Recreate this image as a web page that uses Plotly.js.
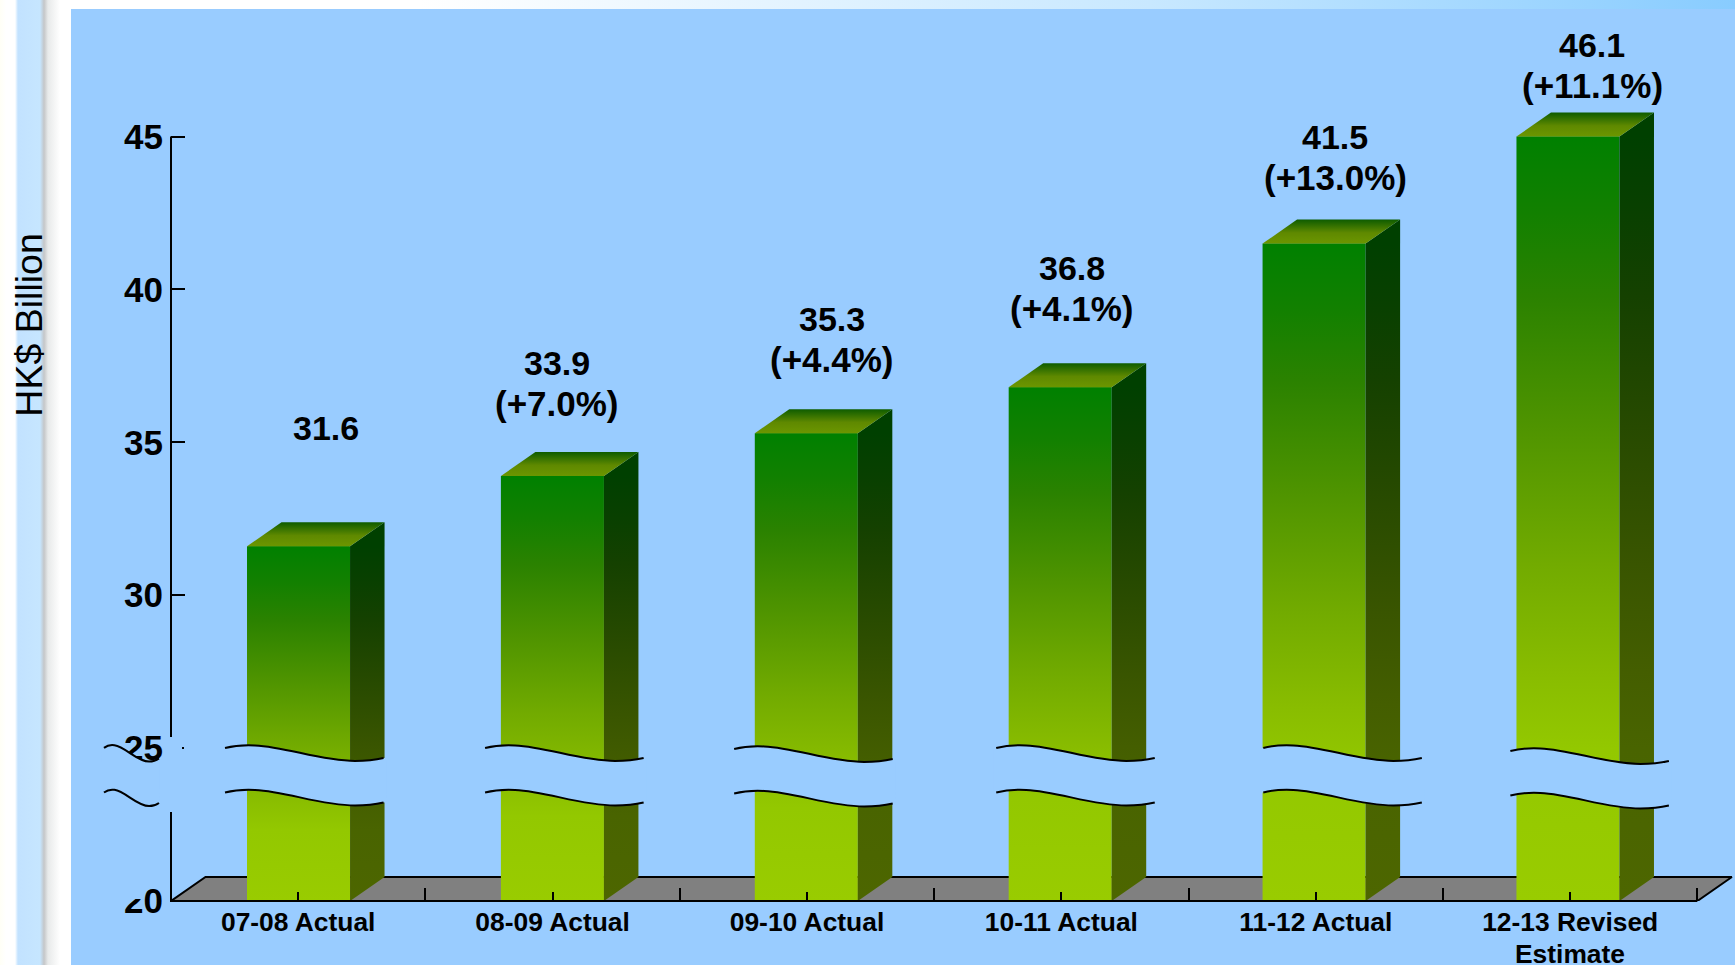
<!DOCTYPE html>
<html>
<head>
<meta charset="utf-8">
<script src="https://cdn.plot.ly/plotly-3.0.1.min.js"></script>
<style>
  html, body { margin: 0; padding: 0; width: 1735px; height: 965px; overflow: hidden; background: #ffffff; }
  #topband { position: absolute; left: 0; top: 0; width: 1735px; height: 9px;
    background: linear-gradient(to right, #ffffff 0, #ffffff 420px, #c8e8ff 1150px, #88ccff 1735px); }
  #strip { position: absolute; left: 0; top: 0; width: 71px; height: 965px;
    background: linear-gradient(to right, #fffff6 0, #ffffff 6px, #ffffff 15px, #c2e2ff 18px, #c6e6ff 40px, #c4c6c8 44px, #e8eaea 48px, #ffffff 60px, #ffffff 71px); }
  #panel { position: absolute; left: 71px; top: 9px; width: 1664px; height: 956px; background: #99ccff; }
  #chart { position: absolute; left: 0; top: 0; width: 1735px; height: 965px; }
</style>
</head>
<body>
<div id="topband"></div>
<div id="strip"></div>
<div id="panel"></div>
<div id="chart"></div>
<script>
// ---- chart data ----
const categories = ['07-08 Actual', '08-09 Actual', '09-10 Actual', '10-11 Actual', '11-12 Actual', '12-13 Revised<br>Estimate'];
const values = [31.6, 33.9, 35.3, 36.8, 41.5, 46.1];
const valueLabels = ['31.6', '33.9', '35.3', '36.8', '41.5', '46.1'];
const changeLabels = ['', '(+7.0%)', '(+4.4%)', '(+4.1%)', '(+13.0%)', '(+11.1%)'];
const yTicks = [20, 25, 30, 35, 40, 45];

// ---- layout constants ----
// the plot area is a little larger than the drawn axes, so the 3-D depth of the bars and floor is not clipped
const X_UNIT = 254.33, Y_UNIT = 30.56;
const AXIS_MIN = 20, AXIS_MAX = 45, CATS = 6;
const X_RANGE_MAX = 6.14, Y_RANGE_MAX = 46;
const L = 171, B = 901, R = L + X_RANGE_MAX * X_UNIT, T = B - (Y_RANGE_MAX - AXIS_MIN) * Y_UNIT;
const HALF = 0.2025, DX = 0.1356, DY = 0.785, BAR_PITCH = 0.998;
const FONT = '"Liberation Sans", Arial, sans-serif';
const PANEL = '#99ccff';
const px = v => (v - L) / (R - L);          // page x to paper fraction
const py = v => (B - v) / (B - T);          // page y to paper fraction
const P = (x, y) => px(x) + ',' + py(y);
const xPx = x => L + x * X_UNIT;
const yPx = y => B - (y - AXIS_MIN) * Y_UNIT;

// gradient stops, from the top of a bar (0) down to its foot (1)
const frontStops = [[0, '#008000'], [.1, '#128000'], [.21, '#2b8200'], [.38, '#4f9400'], [.56, '#72ab00'], [.7, '#88bc00'], [.8, '#93c800'], [1, '#99cc00']];
const sideStops = [[0, '#004000'], [.1, '#094000'], [.21, '#154100'], [.38, '#274a00'], [.56, '#395500'], [.7, '#445e00'], [.8, '#496400'], [1, '#4d6600']];
const rev = s => s.map(([p, c]) => [1 - p, c]).reverse();

const traces = [];

// the floor
traces.push({
  type: 'scatter', mode: 'lines', x: [0, CATS, CATS + DX, DX, 0], y: [AXIS_MIN, AXIS_MIN, AXIS_MIN + DY, AXIS_MIN + DY, AXIS_MIN],
  fill: 'toself', fillcolor: '#808080', line: { color: '#000000', width: 2 },
  cliponaxis: false, hoverinfo: 'skip', showlegend: false
});

// the bars themselves, capped at the top of the axis as in the source chart
const centers = categories.map((_, i) => i + 0.5);
const barCenters = categories.map((_, i) => 0.5013 + i * BAR_PITCH);
const barTops = values.map(v => Math.min(v, AXIS_MAX));
traces.push({
  type: 'bar', x: barCenters, y: barTops, width: HALF * 2 - 0.006, marker: { color: '#4f9400', line: { width: 0 } },
  customdata: values, showlegend: false, hovertemplate: '%{customdata}<extra></extra>'
});

// gradient faces on top of each bar
values.forEach((v, i) => {
  const top = barTops[i], c = barCenters[i];
  const a = c - HALF, b = c + HALF;
  traces.push({
    type: 'scatter', mode: 'none', x: [a, b, b, a, a], y: [AXIS_MIN, AXIS_MIN, top, top, AXIS_MIN], fill: 'toself',
    fillgradient: { type: 'vertical', colorscale: rev(frontStops), start: AXIS_MIN, stop: top },
    hoverinfo: 'skip', showlegend: false
  });
  traces.push({
    type: 'scatter', mode: 'none', x: [b, b + DX, b + DX, b, b], y: [AXIS_MIN, AXIS_MIN + DY, top + DY, top, AXIS_MIN], fill: 'toself',
    fillgradient: { type: 'vertical', colorscale: rev(sideStops), start: AXIS_MIN, stop: top },
    hoverinfo: 'skip', showlegend: false
  });
  traces.push({
    type: 'scatter', mode: 'none', x: [a, b, b + DX, a + DX, a], y: [top, top, top + DY, top + DY, top], fill: 'toself',
    fillgradient: { type: 'vertical', colorscale: [[0, '#6c9600'], [.45, '#5f8900'], [1, '#0e5c00']], start: top, stop: top + DY },
    hoverinfo: 'skip', showlegend: false
  });
});

// ---- axis breaks (decoration) ----
const waveStartX = [225, 485, 734, 996, 1263, 1510];
const waveStartY = [748, 748, 749, 748, 748, 751];
const GAP = 44.5;
function wave(x, y, sx, sy) {
  const q = (dx, dy) => P(x + dx * sx, y + dy * sy);
  return { start: q(0, 0),
    fwd: ' C ' + q(10, -2.5) + ' ' + q(20, -3) + ' ' + q(30, -2.5) + ' C ' + q(62, -1) + ' ' + q(95, 13) + ' ' + q(130, 13) + ' C ' + q(140, 13) + ' ' + q(150, 12) + ' ' + q(158.5, 10),
    end: q(158.5, 10),
    over: q(161, 10),
    under: P(x - 2.5, y),
    back: ' C ' + q(150, 12) + ' ' + q(140, 13) + ' ' + q(130, 13) + ' C ' + q(95, 13) + ' ' + q(62, -1) + ' ' + q(30, -2.5) + ' C ' + q(20, -3) + ' ' + q(10, -2.5) + ' ' + q(0, 0) };
}
const shapes = [];
function addBreak(x, y, sx, sy) {
  const a = wave(x, y, sx, sy), b = wave(x, y + GAP, sx, sy);
  shapes.push({ type: 'path', xref: 'paper', yref: 'paper', layer: 'above', fillcolor: PANEL, line: { width: 0 },
    path: 'M ' + a.under + ' L ' + a.start + a.fwd + ' L ' + a.over + ' L ' + b.over + ' L ' + b.end + b.back + ' L ' + b.under + ' Z' });
  [a, b].forEach(w => shapes.push({ type: 'path', xref: 'paper', yref: 'paper', layer: 'above', fillcolor: 'rgba(0,0,0,0)',
    line: { color: '#000000', width: 2 }, path: 'M ' + w.start + w.fwd }));
}
waveStartX.forEach((x, i) => addBreak(x, waveStartY[i], 1, 1));
addBreak(104, 748, 55 / 158.5, 1.05);
// blanks over the value axis at the break and over part of the label 20
const blank = (x0, x1, y0, y1) => shapes.unshift({ type: 'rect', xref: 'paper', yref: 'paper', layer: 'above', fillcolor: PANEL, line: { width: 0 },
  x0: px(x0), x1: px(x1), y0: py(y0), y1: py(y1) });
blank(164, 182, 737, 812);
blank(184, 226, 737, 790);
blank(120, 143, 880, 899);
// the axis lines stop at the ends of the scales
const axisLine = (x0, y0, x1, y1) => shapes.unshift({ type: 'line', xref: 'paper', yref: 'paper', layer: 'above', line: { color: '#000000', width: 2 },
  x0: px(x0), y0: py(y0), x1: px(x1), y1: py(y1) });
axisLine(xPx(0), yPx(AXIS_MIN) + 1, xPx(0), yPx(AXIS_MAX));
axisLine(xPx(0), yPx(AXIS_MIN), xPx(CATS), yPx(AXIS_MIN));

// ---- annotations ----
const labelX = [326, 557, 832, 1072, 1335, 1592];
const labelY = [428, 363, 319, 268, 137, 45];
const LINE = 41;
const annotations = [];
values.forEach((_, i) => {
  annotations.push({ xref: 'paper', yref: 'paper', x: px(labelX[i]), y: py(labelY[i]), text: valueLabels[i], showarrow: false,
    xanchor: 'center', yanchor: 'middle', font: { family: FONT, size: 34, weight: 700, color: '#000000' } });
  if (changeLabels[i]) annotations.push({ xref: 'paper', yref: 'paper', x: px(labelX[i]), y: py(labelY[i] + LINE), text: changeLabels[i], showarrow: false,
    xanchor: 'center', yanchor: 'middle', font: { family: FONT, size: 35, weight: 700, color: '#000000' } });
});
annotations.push({ xref: 'paper', yref: 'paper', x: px(29), y: py(325), text: 'HK$ Billion', textangle: -90, showarrow: false,
  xanchor: 'center', yanchor: 'middle', font: { family: FONT, size: 37.5, color: '#000000' } });
// a two-line category: first line is the tick label, second line sits right under it
categories.forEach((c, i) => {
  const parts = c.split('<br>');
  if (parts[1]) annotations.push({ xref: 'paper', yref: 'paper', x: px(xPx(centers[i])), y: py(954), text: parts[1], showarrow: false,
    xanchor: 'center', yanchor: 'middle', font: { family: FONT, size: 26.4, weight: 700, color: '#000000' } });
});

const layout = {
  width: 1735, height: 965,
  margin: { l: L, r: 1735 - R, t: T, b: 965 - B, pad: 0 },
  paper_bgcolor: 'rgba(0,0,0,0)', plot_bgcolor: 'rgba(0,0,0,0)',
  showlegend: false, hovermode: 'closest', barmode: 'overlay',
  xaxis: {
    range: [0, X_RANGE_MAX], tickmode: 'array', tickvals: centers, ticktext: categories.map(c => c.split('<br>')[0]),
    ticks: 'inside', ticklen: 9, tickwidth: 1.5, tickcolor: '#000000', tickangle: 0, ticklabelstandoff: 3,
    minor: { tickmode: 'array', tickvals: [0, 1, 2, 3, 4, 5, 6], ticks: 'inside', ticklen: 13, tickwidth: 1.5, tickcolor: '#000000', showgrid: false },
    showgrid: false, zeroline: false, showline: false,
    tickfont: { family: FONT, size: 26.4, weight: 700, color: '#000000' }, fixedrange: true
  },
  yaxis: {
    range: [AXIS_MIN, Y_RANGE_MAX], tickmode: 'array', tickvals: yTicks, ticktext: yTicks.map(String),
    ticks: 'inside', ticklen: 14, tickwidth: 1.5, tickcolor: '#000000', ticklabelstandoff: 7,
    showgrid: false, zeroline: false, showline: false,
    tickfont: { family: FONT, size: 35, weight: 700, color: '#000000' }, fixedrange: true
  },
  shapes, annotations
};
Plotly.newPlot('chart', traces, layout, { displayModeBar: false, responsive: false });
</script>
</body>
</html>
